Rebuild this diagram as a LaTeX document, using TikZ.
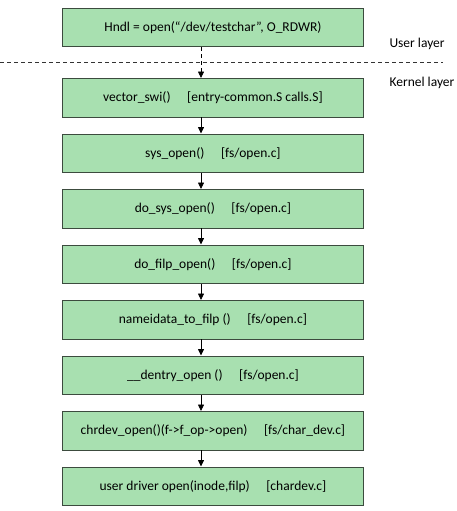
\documentclass[tikz,border=0pt]{standalone}
\usepackage{fontspec}
\setmainfont{Carlito}
\usetikzlibrary{arrows.meta}
\definecolor{boxfill}{RGB}{168,224,176}
\definecolor{boxline}{RGB}{60,75,62}
\begin{document}
\begin{tikzpicture}[x=1pt,y=-1pt,
  stepbox/.style={draw=boxline,line width=0.9pt,fill=boxfill,minimum width=301pt,minimum height=38.5pt,inner sep=0pt,anchor=north west,font=\fontsize{13.5}{15}\selectfont},
  arr/.style={draw=black,line width=0.8pt,-{Triangle[length=6.5pt,width=6pt]}},
  lbl/.style={anchor=west,font=\fontsize{13.5}{15}\selectfont}]
\useasboundingbox (0,0) rectangle (457,511);
\coordinate (ax) at (201,0);
\node[stepbox] (b1) at (62,8) {Hndl = open(“/dev/testchar”, O\_RDWR)};
\node[stepbox] (b2) at (62,78) {vector\_swi()\quad\ [entry-common.S calls.S]};
\node[stepbox] (b3) at (62,133.5) {sys\_open()\quad\ [fs/open.c]};
\node[stepbox] (b4) at (62,189) {do\_sys\_open()\quad\ [fs/open.c]};
\node[stepbox] (b5) at (62,244.5) {do\_filp\_open()\quad\ [fs/open.c]};
\node[stepbox] (b6) at (62,300) {nameidata\_to\_filp ()\quad\ [fs/open.c]};
\node[stepbox] (b7) at (62,355.5) {\_\_dentry\_open ()\quad\ [fs/open.c]};
\node[stepbox] (b8) at (62,411) {chrdev\_open()(f->f\_op->open)\quad\ [fs/char\_dev.c]};
\node[stepbox] (b9) at (62,466.5) {user driver open(inode,filp)\quad\ [chardev.c]};
\coordinate (l0) at (0,62);
\coordinate (l1) at (443,62);
\draw[dashed,line width=0.7pt,dash pattern=on 4pt off 3pt,black!80] (l0) -- (l1);
\node[lbl] (ul) at (386,44) {User layer};
\node[lbl] (kl) at (386,83) {Kernel layer};
\draw[arr,dashed,dash pattern=on 4pt off 3pt] (b1.south -| ax) -- (b2.north -| ax);
\foreach \a/\b in {b2/b3,b3/b4,b4/b5,b5/b6,b6/b7,b7/b8,b8/b9}
  \draw[arr] (\a.south -| ax) -- (\b.north -| ax);
\end{tikzpicture}
\end{document}
